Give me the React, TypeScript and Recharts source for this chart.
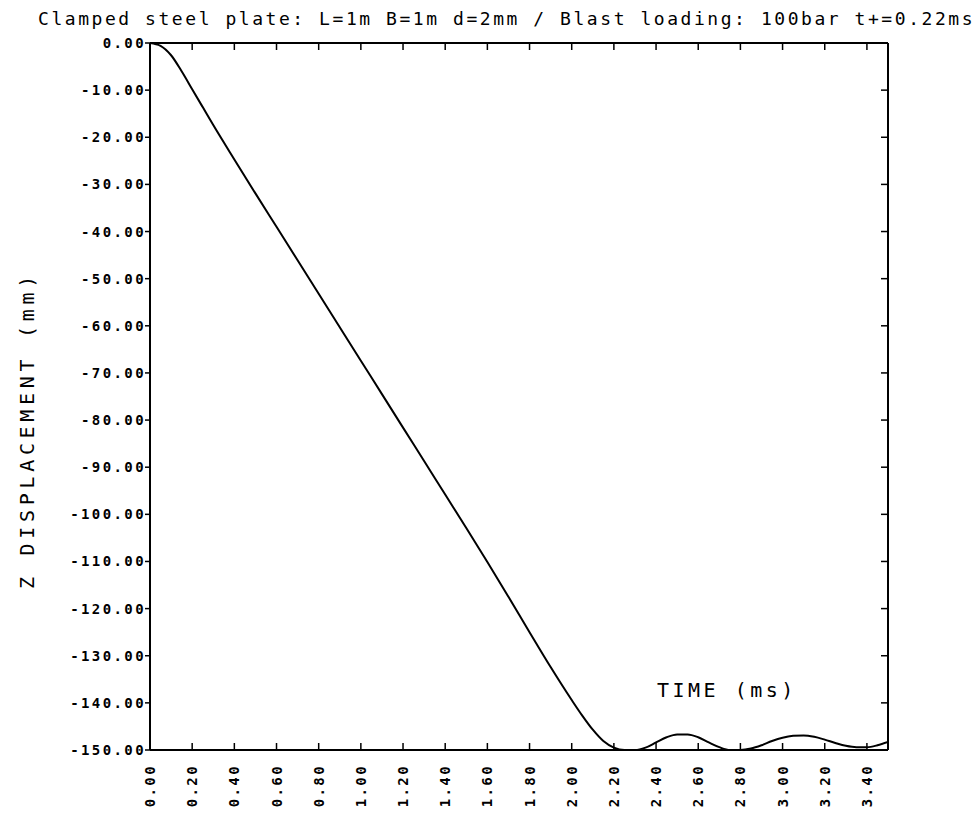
import { LineChart, Line, XAxis, YAxis } from 'recharts';

// time (ms) and Z displacement (mm)
const timeMs = [
  0, 0.05, 0.1, 0.15, 0.2, 0.25, 0.3, 0.4, 0.5, 0.6, 0.7, 0.8, 0.9, 1.0, 1.1, 1.2, 1.3, 1.4,
  1.5, 1.6, 1.7, 1.8, 1.9, 2.0, 2.05, 2.1, 2.15, 2.2, 2.25, 2.3, 2.35, 2.4, 2.45, 2.5, 2.55,
  2.6, 2.65, 2.7, 2.75, 2.8, 2.85, 2.9, 2.95, 3.0, 3.05, 3.1, 3.15, 3.2, 3.25, 3.3, 3.35,
  3.4, 3.45, 3.5,
];
const zDisp = [
  0, -0.6, -2.6, -6.0, -9.8, -13.6, -17.4, -24.7, -31.9, -39.0, -46.1, -53.2, -60.3, -67.4,
  -74.5, -81.6, -88.7, -95.8, -102.9, -110.1, -117.5, -125.0, -132.4, -139.4, -142.7,
  -145.7, -148.1, -149.5, -150, -150, -149.5, -148.4, -147.3, -146.7, -146.7, -147.3,
  -148.4, -149.4, -150, -150, -149.7, -149.0, -148.1, -147.4, -147.0, -146.9, -147.2,
  -147.8, -148.5, -149.1, -149.4, -149.4, -149.0, -148.3,
];
const xTicks = [0, 0.2, 0.4, 0.6, 0.8, 1.0, 1.2, 1.4, 1.6, 1.8, 2.0, 2.2, 2.4, 2.6, 2.8, 3.0, 3.2, 3.4];
const yTicks = [0, -10, -20, -30, -40, -50, -60, -70, -80, -90, -100, -110, -120, -130, -140, -150];

const titleText = 'Clamped steel plate: L=1m B=1m d=2mm / Blast loading: 100bar t+=0.22ms';
const yLabel = 'Z DISPLACEMENT (mm)';
const xLabel = 'TIME (ms)';

const data = timeMs.map((t, i) => ({ t, z: zDisp[i] }));

const MONO = '"DejaVu Sans Mono", monospace';
const tickFont = { fontFamily: MONO, fontSize: 14, fontWeight: 700, letterSpacing: 2.4, fill: '#000' };

const BottomTick = (props: any) => {
  const { x, y, payload } = props;
  const ty = y + 14;
  return (
    <g>
      <line x1={x} y1={y} x2={x} y2={y - 7} stroke="#000" strokeWidth={1.5} />
      <text x={x} y={ty} transform={`rotate(-90, ${x}, ${ty})`} textAnchor="end" dominantBaseline="central" {...tickFont}>
        {Number(payload.value).toFixed(2)}
      </text>
    </g>
  );
};

const TopTick = (props: any) => {
  const { x, y } = props;
  return <line x1={x} y1={y} x2={x} y2={y + 7} stroke="#000" strokeWidth={1.5} />;
};

const LeftTick = (props: any) => {
  const { x, y, payload } = props;
  return (
    <g>
      <line x1={x - 5} y1={y} x2={x} y2={y} stroke="#000" strokeWidth={1.5} />
      <text x={x - 4} y={y} textAnchor="end" dominantBaseline="central" {...tickFont}>
        {Number(payload.value).toFixed(2)}
      </text>
    </g>
  );
};

const RightTick = (props: any) => {
  const { x, y } = props;
  return <line x1={x} y1={y} x2={x - 7} y2={y} stroke="#000" strokeWidth={1.5} />;
};

export default function App() {
  return (
    <div style={{ position: 'absolute', left: 0, top: 0, width: 976, height: 817, background: '#fff' }}>
      <div
        style={{
          position: 'absolute', left: 38, top: 8, width: 934, whiteSpace: 'nowrap',
          fontFamily: MONO, fontSize: 18, letterSpacing: 2.55, lineHeight: '22px', color: '#000',
        }}
      >
        {titleText}
      </div>
      <div
        style={{
          position: 'absolute', left: 27, top: 430, whiteSpace: 'nowrap',
          fontFamily: MONO, fontSize: 20, letterSpacing: 4.7, lineHeight: '20px', color: '#000',
          transform: 'translate(-50%, -50%) rotate(-90deg)',
        }}
      >
        {yLabel}
      </div>
      <div
        style={{
          position: 'absolute', left: 657, top: 678, whiteSpace: 'nowrap',
          fontFamily: MONO, fontSize: 20, letterSpacing: 3.5, lineHeight: '24px', color: '#000',
        }}
      >
        {xLabel}
      </div>
      <LineChart width={976} height={817} data={data} margin={{ top: 42, right: 87, bottom: 0, left: 0 }}>
        <XAxis
          dataKey="t"
          type="number"
          domain={[0, 3.5]}
          ticks={xTicks}
          interval={0}
          allowDataOverflow
          height={67}
          tickSize={0}
          tickMargin={0}
          tickLine={false}
          axisLine={{ stroke: '#000', strokeWidth: 2 }}
          tick={<BottomTick />}
        />
        <XAxis
          xAxisId="top"
          orientation="top"
          dataKey="t"
          type="number"
          domain={[0, 3.5]}
          ticks={xTicks}
          interval={0}
          allowDataOverflow
          height={1}
          tickSize={0}
          tickMargin={0}
          tickLine={false}
          axisLine={{ stroke: '#000', strokeWidth: 2 }}
          tick={<TopTick />}
        />
        <YAxis
          type="number"
          domain={[-150, 0]}
          ticks={yTicks}
          interval={0}
          allowDataOverflow
          width={150}
          tickSize={0}
          tickMargin={0}
          tickLine={false}
          axisLine={{ stroke: '#000', strokeWidth: 2 }}
          tick={<LeftTick />}
        />
        <YAxis
          yAxisId="right"
          orientation="right"
          type="number"
          domain={[-150, 0]}
          ticks={yTicks}
          interval={0}
          allowDataOverflow
          width={1}
          tickSize={0}
          tickMargin={0}
          tickLine={false}
          axisLine={{ stroke: '#000', strokeWidth: 2 }}
          tick={<RightTick />}
        />
        <Line
          dataKey="z"
          type="monotone"
          stroke="#000"
          strokeWidth={2}
          dot={false}
          isAnimationActive={false}
        />
      </LineChart>
    </div>
  );
}
